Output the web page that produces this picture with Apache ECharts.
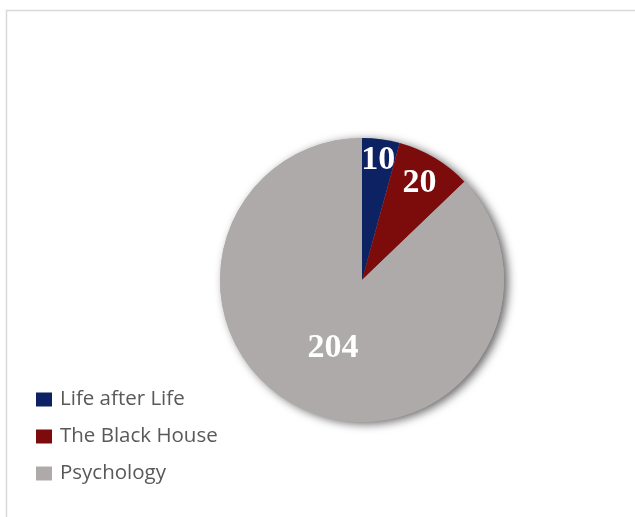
<!DOCTYPE html>
<html>
<head>
<meta charset="utf-8">
<script src="https://cdn.jsdelivr.net/npm/echarts@6/dist/echarts.min.js"></script>
<style>
  html, body { margin: 0; padding: 0; background: #ffffff; }
  #chart { width: 635px; height: 517px; }
</style>
</head>
<body>
<div id="chart"></div>
<script>
// Books and how many copies of each
const categories = ['Life after Life', 'The Black House', 'Psychology'];
const values = [10, 20, 204];

// Slice colours and how far out (as a share of the radius) each value label sits
const sliceColors = ['#0d2262', '#7c0b0b', '#aeaaaa'];
const labelRadiusShare = [0.83, 0.77, 0.5];

const pieCenter = [362, 280];
const pieRadius = 142;

// Shift each label from the default mid-radius spot outward along its slice's mid angle
const total = values.reduce((a, b) => a + b, 0);
let acc = 0;
const pieData = categories.map((name, i) => {
  const mid = (acc + values[i] / 2) / total * Math.PI * 2;
  acc += values[i];
  const shift = (labelRadiusShare[i] - 0.5) * pieRadius;
  return {
    name: name,
    value: values[i],
    itemStyle: { color: sliceColors[i] },
    label: { offset: [shift * Math.sin(mid), -shift * Math.cos(mid)] }
  };
});

const chart = echarts.init(document.getElementById('chart'), null, { renderer: 'canvas' });
chart.setOption({
  backgroundColor: '#ffffff',
  animation: false,
  graphic: [{
    type: 'rect',
    shape: { x: 6.5, y: 10.5, width: 700, height: 600 },
    style: { fill: 'none', stroke: '#d9d9d9', lineWidth: 1.5 },
    silent: true,
    z: -10
  }],
  legend: {
    orient: 'vertical',
    left: 36,
    top: 389,
    padding: 0,
    icon: 'rect',
    itemWidth: 16,
    itemHeight: 14,
    itemGap: 16,
    data: categories,
    textStyle: {
      fontFamily: 'Open Sans',
      fontSize: 20.5,
      lineHeight: 20,
      padding: [0, 0, 0, 3],
      color: '#595959'
    }
  },
  series: [
    {
      // soft drop shadow beneath the pie
      type: 'pie',
      center: pieCenter,
      radius: pieRadius,
      startAngle: 90,
      clockwise: true,
      silent: true,
      z: 1,
      label: { show: false },
      labelLine: { show: false },
      itemStyle: {
        color: '#aeaaaa',
        shadowBlur: 10,
        shadowOffsetX: 4,
        shadowOffsetY: 2,
        shadowColor: 'rgba(0,0,0,0.6)'
      },
      data: values.map(v => ({ value: v }))
    },
    {
      type: 'pie',
      center: pieCenter,
      radius: pieRadius,
      startAngle: 90,
      clockwise: true,
      z: 2,
      legendHoverLink: false,
      itemStyle: { borderWidth: 0 },
      label: {
        show: true,
        position: 'inside',
        formatter: '{c}',
        color: '#ffffff',
        fontFamily: 'Liberation Serif',
        fontWeight: 'bold',
        fontSize: 34
      },
      labelLine: { show: false },
      emphasis: { disabled: true },
      data: pieData
    }
  ]
});
</script>
</body>
</html>
